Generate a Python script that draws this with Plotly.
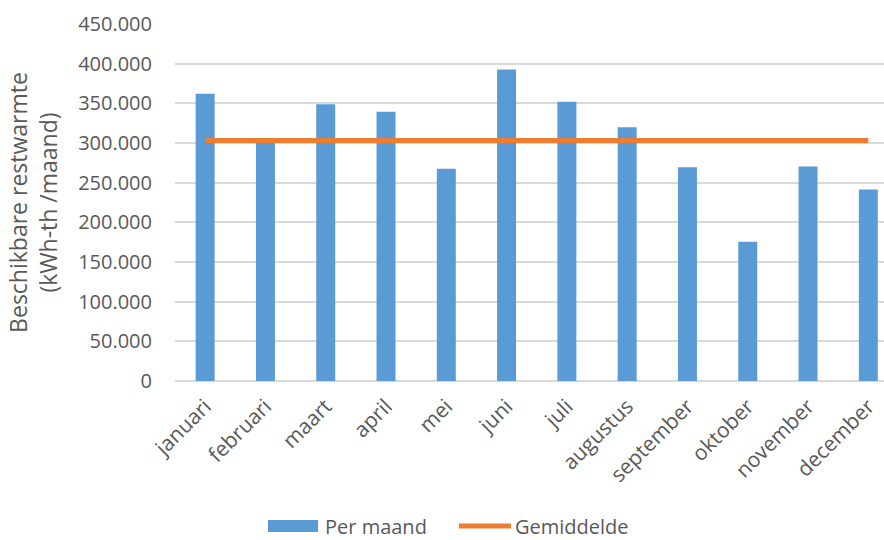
import plotly.graph_objects as go

# Monthly available residual heat (kWh-th per month)
maanden = ["januari", "februari", "maart", "april", "mei", "juni", "juli",
           "augustus", "september", "oktober", "november", "december"]
per_maand = [362000, 300000, 348700, 339500, 267600, 392800, 352000,
             320000, 269400, 175600, 270500, 241500]
gemiddelde = sum(per_maand) / len(per_maand)
gem_lijn = [gemiddelde] * len(maanden)

y_ticks = [0, 50000, 100000, 150000, 200000, 250000, 300000, 350000, 400000, 450000]

BLUE = "#5B9BD5"
ORANGE = "#ED7D31"
TEXT = "#595959"
GRID = "#D9D9D9"
FONT = "Open Sans"

W, H = 884, 540
M_L, M_R, M_T, M_B = 175, 0, 24, 159

fig = go.Figure()
fig.add_trace(go.Bar(x=maanden, y=per_maand, name="Per maand",
                     marker=dict(color=BLUE, line=dict(width=0)),
                     width=0.315, showlegend=False))
fig.add_trace(go.Scatter(x=maanden, y=gem_lijn, name="Gemiddelde", mode="lines",
                         line=dict(color=ORANGE, width=5), showlegend=False))

# Legend drawn below the plot area (pixel positions converted to paper units)
plot_w = W - M_L - M_R
plot_h = H - M_T - M_B


def px(x):
    return (x - M_L) / plot_w


def py(y):
    return (H - M_B - y) / plot_h


legend_y = 526
fig.add_shape(type="rect", xref="paper", yref="paper",
              x0=px(268), x1=px(318), y0=py(legend_y - 6), y1=py(legend_y + 6),
              fillcolor=BLUE, line=dict(width=0))
fig.add_shape(type="line", xref="paper", yref="paper",
              x0=px(459), x1=px(511), y0=py(legend_y), y1=py(legend_y),
              line=dict(color=ORANGE, width=5))
fig.add_annotation(text="Per maand", xref="paper", yref="paper",
                   x=px(323), y=py(legend_y), xanchor="left", yanchor="middle",
                   showarrow=False, font=dict(family=FONT, size=20, color=TEXT))
fig.add_annotation(text="Gemiddelde", xref="paper", yref="paper",
                   x=px(513), y=py(legend_y), xanchor="left", yanchor="middle",
                   showarrow=False, font=dict(family=FONT, size=20, color=TEXT))

fig.update_layout(
    width=W, height=H,
    margin=dict(l=M_L, r=M_R, t=M_T, b=M_B),
    paper_bgcolor="white", plot_bgcolor="white",
    separators=",.",
    font=dict(family=FONT, size=20, color=TEXT),
    showlegend=False,
    xaxis=dict(range=[-0.5, 11.26], tickangle=-45, showgrid=False,
               showline=False, ticks="", ticklabelstandoff=8,
               tickfont=dict(size=21, color=TEXT)),
    yaxis=dict(range=[0, 450000], tickvals=y_ticks, tickformat=",d",
               showgrid=True, gridcolor=GRID, gridwidth=2,
               zeroline=True, zerolinecolor=GRID, zerolinewidth=2,
               showline=False, ticks="", ticklabelstandoff=22,
               tickfont=dict(size=20, color=TEXT),
               title=dict(text="Beschikbare restwarmte<br>(kWh-th /maand)",
                          font=dict(size=23, color=TEXT), standoff=14)),
)

fig.write_html("out.html")
